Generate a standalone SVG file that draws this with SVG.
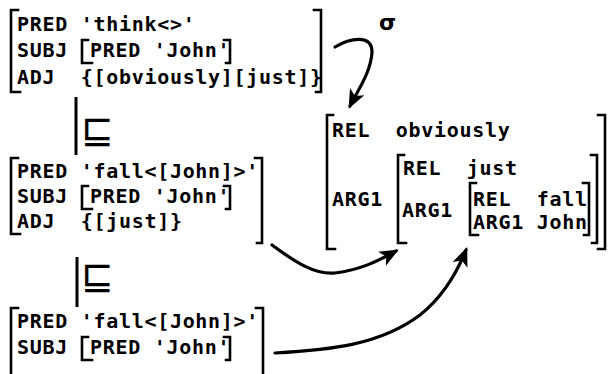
<svg xmlns="http://www.w3.org/2000/svg" width="610" height="374" viewBox="0 0 610 374">
<defs>
<style>
.t{font-family:"DejaVu Sans Mono","Liberation Mono",monospace;font-size:20px;font-weight:bold;letter-spacing:0.7px;fill:#000;white-space:pre}
.sym{font-family:"DejaVu Sans","Liberation Sans",sans-serif;font-size:39px;fill:#000}
.sig{font-family:"DejaVu Sans","Liberation Sans",sans-serif;font-size:22px;font-weight:bold;fill:#000}
.br{fill:none;stroke:#000;stroke-width:2.6;stroke-linecap:square}
.ln{fill:none;stroke:#000;stroke-width:3}
.ar{fill:none;stroke:#000;stroke-width:3.2;stroke-linecap:round}
</style>
<marker id="ah" viewBox="0 0 12 10" refX="10" refY="5" markerWidth="6" markerHeight="5.5" markerUnits="strokeWidth" orient="auto">
<path d="M0,0 L12,5 L0,10 L3,5 z" fill="#000"/>
</marker>
</defs>
<rect width="610" height="374" fill="#fff"/>

<g id="m1">
<path class="br" d="M18,10 H11 V92 H20"/>
<path class="br" d="M314,10 H321 V92 H316"/>
<text class="t" x="17" y="31">PRED 'think&lt;&gt;'</text>
<text class="t" x="17" y="57">SUBJ</text>
<path class="br" d="M88,40 H82 V63 H92"/>
<text class="t" x="90" y="57">PRED 'John'</text>
<path class="br" d="M224,40 H230 V63 H226"/>
<text class="t" x="17" y="84">ADJ  {[obviously][just]}</text>
</g>

<g id="m2">
<path class="br" d="M18,158 H11 V234 H20"/>
<path class="br" d="M255,158 H262 V243 H257"/>
<text class="t" x="17" y="178">PRED 'fall&lt;[John]&gt;'</text>
<text class="t" x="17" y="203">SUBJ</text>
<path class="br" d="M88,186 H82 V209 H92"/>
<text class="t" x="90" y="203">PRED 'John'</text>
<path class="br" d="M224,186 H230 V209 H226"/>
<text class="t" x="17" y="228">ADJ  {[just]}</text>
</g>

<g id="m3">
<path class="br" d="M18,308 H11 V376"/>
<path class="br" d="M256,308 H263 V376"/>
<text class="t" x="17" y="328">PRED 'fall&lt;[John]&gt;'</text>
<text class="t" x="17" y="354">SUBJ</text>
<path class="br" d="M88,337 H82 V360 H92"/>
<text class="t" x="90" y="354">PRED 'John'</text>
<path class="br" d="M224,337 H230 V360 H226"/>
</g>

<g id="sem">
<path class="br" d="M333,115 H327 V249 H335"/>
<path class="br" d="M598,115 H605 V249 H598"/>
<text class="t" x="332" y="137">REL  obviously</text>
<text class="t" x="332" y="206">ARG1</text>
<path class="br" d="M404,155 H398 V243 H406"/>
<path class="br" d="M591,155 H597 V243 H592"/>
<text class="t" x="403" y="175">REL  just</text>
<text class="t" x="402" y="217">ARG1</text>
<path class="br" d="M476,183 H470 V235 H478"/>
<path class="br" d="M583,183 H589 V235 H584"/>
<text class="t" x="473" y="206">REL  fall</text>
<text class="t" x="473" y="229">ARG1 John</text>
</g>

<g id="connectors">
<path class="ln" d="M76,97 V155"/>
<text class="sym" x="81" y="143">⊑</text>
<path class="ln" d="M77,257 V307"/>
<text class="sym" x="81" y="289">⊑</text>
<text class="sig" x="379" y="30">σ</text>
<path class="ar" marker-end="url(#ah)" d="M335,47 C350,38 372,34 372,52 C371,72 358,90 350,106"/>
<path class="ar" marker-end="url(#ah)" d="M272,245 C295,262 315,275 335,273 C360,270 378,261 396,251"/>
<path class="ar" marker-end="url(#ah)" d="M275,353 C330,350 380,345 420,315 C445,295 458,270 466,250"/>
</g>
</svg>
